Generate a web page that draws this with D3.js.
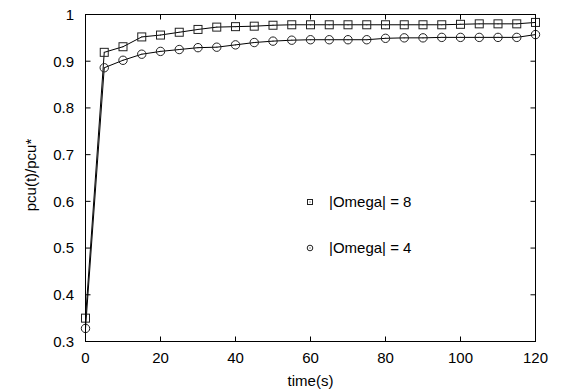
<!DOCTYPE html>
<html>
<head>
<meta charset="utf-8">
<script src="https://cdn.jsdelivr.net/npm/d3@7"></script>
<style>
    body { margin: 0; background: #fff; }
    svg { display: block; font-family: "Liberation Sans", Arial, sans-serif; }
    .lbl { font-size: 15px; fill: #000; }
</style>
</head>
<body>
<svg id="chart" width="565" height="392"></svg>
<script>
// time axis (s)
const times = [0, 5, 10, 15, 20, 25, 30, 35, 40, 45, 50, 55, 60,
               65, 70, 75, 80, 85, 90, 95, 100, 105, 110, 115, 120];

// pcu(t)/pcu* for |Omega| = 8 (squares)
const omega8 = [0.350, 0.919, 0.931, 0.952, 0.956, 0.962, 0.968, 0.973, 0.974,
                0.975, 0.977, 0.978, 0.978, 0.978, 0.978, 0.978, 0.978, 0.978,
                0.978, 0.978, 0.979, 0.980, 0.980, 0.980, 0.983];

// pcu(t)/pcu* for |Omega| = 4 (circles)
const omega4 = [0.328, 0.886, 0.902, 0.915, 0.921, 0.925, 0.929, 0.930, 0.935,
                0.940, 0.943, 0.945, 0.946, 0.946, 0.946, 0.946, 0.949, 0.950,
                0.950, 0.951, 0.951, 0.951, 0.951, 0.951, 0.957];

const xTicks = [0, 20, 40, 60, 80, 100, 120];
const yTicks = [0.3, 0.4, 0.5, 0.6, 0.7, 0.8, 0.9, 1];

const seriesLabels = ['|Omega| = 8', '|Omega| = 4'];

(function() {
    'use strict';

    const svg = d3.select('#chart');
    const left = 85.5, right = 535.5, top = 14.5, bottom = 341.5;
    const tickLen = 5;

    const x = d3.scaleLinear().domain([0, 120]).range([left, right]);
    const y = d3.scaleLinear().domain([0.3, 1]).range([bottom, top]);

    const g = svg.append('g');

    // ticks on all four sides, pointing inward
    xTicks.forEach(t => {
        if (t === 0 || t === 120) return;
        g.append('line').attr('x1', x(t)).attr('x2', x(t))
            .attr('y1', bottom).attr('y2', bottom - tickLen)
            .attr('stroke', '#000');
        g.append('line').attr('x1', x(t)).attr('x2', x(t))
            .attr('y1', top).attr('y2', top + tickLen)
            .attr('stroke', '#000');
    });
    yTicks.forEach(t => {
        if (t === 0.3 || t === 1) return;
        g.append('line').attr('x1', left).attr('x2', left + tickLen)
            .attr('y1', y(t)).attr('y2', y(t))
            .attr('stroke', '#000');
        g.append('line').attr('x1', right).attr('x2', right - tickLen)
            .attr('y1', y(t)).attr('y2', y(t))
            .attr('stroke', '#000');
    });

    // tick labels
    g.selectAll('.xl')
        .data(xTicks)
        .enter()
        .append('text')
        .attr('class', 'lbl')
        .attr('x', d => x(d))
        .attr('y', 363)
        .attr('text-anchor', 'middle')
        .text(d => d);

    g.selectAll('.yl')
        .data(yTicks)
        .enter()
        .append('text')
        .attr('class', 'lbl')
        .attr('x', 74)
        .attr('y', d => y(d) + 5.3)
        .attr('text-anchor', 'end')
        .text(d => d3.format('')(d));

    // axis titles
    svg.append('text')
        .attr('class', 'lbl')
        .attr('x', (left + right) / 2)
        .attr('y', 386)
        .attr('text-anchor', 'middle')
        .text('time(s)');

    svg.append('text')
        .attr('class', 'lbl')
        .attr('transform', 'translate(36,175) rotate(-90)')
        .attr('text-anchor', 'middle')
        .text('pcu(t)/pcu*');

    // lines
    const line = d3.line()
        .x((d, i) => x(times[i]))
        .y(d => y(d));

    [omega8, omega4].forEach(vals => {
        g.append('path')
            .datum(vals)
            .attr('d', line)
            .attr('fill', 'none')
            .attr('stroke', '#000')
            .attr('stroke-width', 1);
    });

    function drawSquare(sel, cx, cy, s) {
        sel.append('rect')
            .attr('x', cx - s / 2).attr('y', cy - s / 2)
            .attr('width', s).attr('height', s)
            .attr('fill', 'none').attr('stroke', '#222').attr('stroke-width', 1);
        sel.append('rect')
            .attr('x', cx - 0.5).attr('y', cy - 0.5)
            .attr('width', 1).attr('height', 1)
            .attr('fill', '#222');
    }

    function drawCircle(sel, cx, cy, r) {
        sel.append('circle')
            .attr('cx', cx).attr('cy', cy).attr('r', r)
            .attr('fill', 'none').attr('stroke', '#222').attr('stroke-width', 1);
        sel.append('rect')
            .attr('x', cx - 0.5).attr('y', cy - 0.5)
            .attr('width', 1).attr('height', 1)
            .attr('fill', '#222');
    }

    // markers
    const markers = g.append('g');
    omega8.forEach((v, i) => drawSquare(markers, x(times[i]), y(v), 8));
    omega4.forEach((v, i) => drawCircle(markers, x(times[i]), y(v), 4.2));

    // frame
    g.append('rect')
        .attr('x', left).attr('y', top)
        .attr('width', right - left).attr('height', bottom - top)
        .attr('fill', 'none').attr('stroke', '#000').attr('stroke-width', 1);

    // legend
    const legend = svg.append('g');
    const legendY = [202, 248];
    drawSquare(legend, 310, legendY[0], 5);
    drawCircle(legend, 310, legendY[1], 2.8);
    seriesLabels.forEach((lbl, i) => {
        legend.append('text')
            .attr('class', 'lbl')
            .attr('x', 329)
            .attr('y', legendY[i] + 5.3)
            .text(lbl);
    });
})();
</script>
</body>
</html>
